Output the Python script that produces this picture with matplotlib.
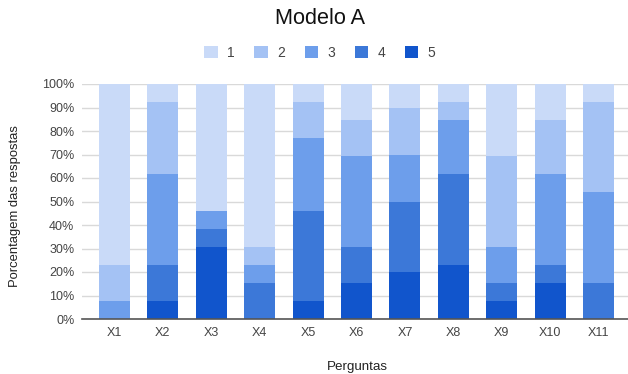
import matplotlib
matplotlib.use("Agg")
import matplotlib.pyplot as plt
from matplotlib.patches import Patch

plt.rcParams['font.family'] = ['Liberation Sans', 'DejaVu Sans']

# Data: share of answers (%) per question, for each answer level
questions = ['X1', 'X2', 'X3', 'X4', 'X5', 'X6', 'X7', 'X8', 'X9', 'X10', 'X11']
levels = ['1', '2', '3', '4', '5']
resp1 = [76.92, 7.69, 53.85, 69.23, 7.69, 15.38, 10.0, 7.69, 30.77, 15.38, 7.69]
resp2 = [15.38, 30.77, 0.0, 7.69, 15.38, 15.38, 20.0, 7.69, 38.46, 23.08, 38.46]
resp3 = [7.69, 38.46, 7.69, 7.69, 30.77, 38.46, 20.0, 23.08, 15.38, 38.46, 38.46]
resp4 = [0.0, 15.38, 7.69, 15.38, 38.46, 15.38, 30.0, 38.46, 7.69, 7.69, 15.38]
resp5 = [0.0, 7.69, 30.77, 0.0, 7.69, 15.38, 20.0, 23.08, 7.69, 15.38, 0.0]
yticks = [0, 10, 20, 30, 40, 50, 60, 70, 80, 90, 100]

colors = {'1': '#c9daf8', '2': '#a4c2f4', '3': '#6d9eeb', '4': '#3c78d8', '5': '#1155cc'}

W, H = 628, 374
fig = plt.figure(figsize=(W / 100, H / 100), dpi=100)
ax = fig.add_axes([82 / W, 1 - 319 / H, (631 - 82) / W, (319 - 84) / H])

x = list(range(len(questions)))
bottom = [0.0] * len(questions)
# stack from level 5 at the bottom up to level 1
for lvl, vals in [('5', resp5), ('4', resp4), ('3', resp3), ('2', resp2), ('1', resp1)]:
    ax.bar(x, vals, width=0.64, bottom=bottom, color=colors[lvl], linewidth=0, zorder=2)
    bottom = [b + v for b, v in zip(bottom, vals)]

ax.set_xlim(-0.67, 10.67)
ax.set_ylim(0, 100)
ax.set_yticks(yticks)
ax.set_yticklabels([f'{t}%' for t in yticks])
ax.set_xticks(x)
ax.set_xticklabels(questions)
ax.tick_params(axis='both', length=0, labelsize=9, colors='#444444')
ax.tick_params(axis='y', pad=5.5)
ax.tick_params(axis='x', pad=6)
ax.grid(axis='y', color='#d9d9d9', linewidth=1, zorder=0)
for s in ['top', 'right', 'left']:
    ax.spines[s].set_visible(False)
ax.spines['bottom'].set_color('#555555')
ax.spines['bottom'].set_linewidth(1.2)
ax.spines['bottom'].set_zorder(3)

fig.text(320 / W, 1 - 19 / H, 'Modelo A', ha='center', va='center', fontsize=15.6, color='#111111')
fig.text(357 / W, 1 - 367 / H, 'Perguntas', ha='center', va='center', fontsize=9.6, color='#222222')
fig.text(15 / W, 1 - 206 / H, 'Porcentagem das respostas', ha='center', va='center',
         rotation=90, fontsize=9.4, color='#222222')

handles = [Patch(facecolor=colors[l], edgecolor='none') for l in levels]
fig.legend(handles, levels, loc='center', bbox_to_anchor=(320 / W, 1 - 53 / H), ncol=5,
           frameon=False, fontsize=10, handlelength=0.95, handleheight=0.95,
           handletextpad=0.7, columnspacing=1.4, labelcolor='#444444')

fig.savefig('out.png', dpi=100)
